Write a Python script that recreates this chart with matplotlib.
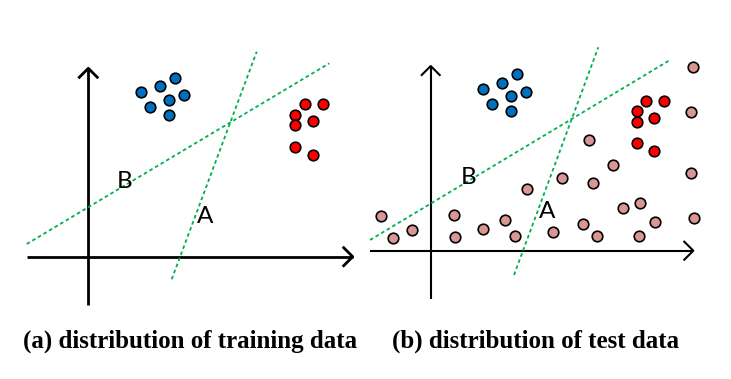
import matplotlib
matplotlib.use('Agg')
import matplotlib.pyplot as plt

# Schéma: dva panely (a) trénovací data, (b) testovací data
# souřadnice v pixelech obrázku (x doprava, y dolů)

W, H = 731, 379

# (a) trénovací data
a_axis_x = 88.3
a_axis_y = 256.7
a_xrange = (26.7, 352.7)
a_yrange = (305.0, 68.3)
a_blue_x = [140.7, 160.0, 175.3, 169.3, 184.0, 150.0, 169.3]
a_blue_y = [92.3, 86.0, 77.7, 100.0, 95.0, 107.3, 114.7]
a_red_x = [305.0, 322.7, 295.3, 295.3, 313.3, 295.3, 313.3]
a_red_y = [104.0, 104.0, 114.7, 125.3, 121.3, 146.7, 155.3]
a_line_A = ([171.7, 256.7], [279.3, 51.7])
a_line_B = ([26.7, 329.3], [244.0, 63.3])
a_label_A = (205.0, 216.7)
a_label_B = (125.0, 182.0)

# (b) testovací data
b_axis_x = 430.7
b_axis_y = 250.7
b_xrange = (370.0, 693.3)
b_yrange = (299.3, 66.0)
b_blue_x = [482.7, 502.3, 517.0, 511.3, 526.0, 492.0, 511.3]
b_blue_y = [89.0, 82.7, 74.3, 96.3, 92.0, 103.7, 111.0]
b_red_x = [646.0, 663.7, 636.7, 636.7, 654.3, 636.7, 654.3]
b_red_y = [101.0, 101.0, 111.0, 121.7, 118.3, 142.7, 151.3]
b_test_x = [693.3, 691.0, 589.3, 613.0, 691.0, 562.0, 593.3, 526.7, 623.0, 640.0,
            694.3, 380.7, 454.3, 505.3, 655.3, 393.3, 412.3, 455.0, 483.0, 514.7,
            553.3, 583.3, 597.0, 639.3]
b_test_y = [66.7, 112.3, 140.0, 165.0, 173.3, 177.7, 183.3, 189.0, 207.7, 203.0,
            217.7, 215.7, 214.7, 219.7, 221.7, 237.7, 229.7, 236.7, 228.7, 235.7,
            232.3, 223.7, 235.7, 235.7]
b_line_A = ([514.0, 598.3], [275.0, 47.3])
b_line_B = ([370.0, 670.0], [240.0, 60.0])
b_label_A = (547.3, 212.0)
b_label_B = (468.3, 178.0)

captions = ['(a) distribution of training data', '(b) distribution of test data']
caption_x = [190.0, 535.5]
caption_y = 348.0

BLUE = '#0070c0'
RED = '#ff0000'
PINK = '#d99694'
GREEN = '#00b050'


def draw_axes(ax, ox, oy, xr, yr, lw):
    """Osy se šipkami"""
    hd = 9
    ax.plot(xr, [oy, oy], color='black', lw=lw, solid_capstyle='butt', zorder=2)
    ax.plot([ox, ox], yr, color='black', lw=lw, solid_capstyle='butt', zorder=2)
    xe = xr[1]
    ax.plot([xe - hd, xe, xe - hd], [oy - hd, oy, oy + hd], color='black', lw=lw, zorder=2)
    ye = yr[1]
    ax.plot([ox - hd, ox, ox + hd], [ye + hd, ye, ye + hd], color='black', lw=lw, zorder=2)


def draw_panel(ax, axis_x, axis_y, xr, yr, lw, blue, red, line_a, line_b, lab_a, lab_b, test=None):
    draw_axes(ax, axis_x, axis_y, xr, yr, lw)
    for line in (line_a, line_b):
        ax.plot(line[0], line[1], color=GREEN, lw=1.3, linestyle=(0, (2.0, 1.6)), zorder=3)
    mk = dict(marker='o', linestyle='none', markersize=7.6, markeredgecolor='black',
              markeredgewidth=1.2, zorder=4)
    if test is not None:
        ax.plot(test[0], test[1], markerfacecolor=PINK, **mk)
    ax.plot(blue[0], blue[1], markerfacecolor=BLUE, **mk)
    ax.plot(red[0], red[1], markerfacecolor=RED, **mk)
    for txt, pos in (('A', lab_a), ('B', lab_b)):
        ax.text(pos[0], pos[1], txt, fontsize=17.5, family=['Lato', 'DejaVu Sans'],
                ha='center', va='center', color='black', zorder=5)


fig = plt.figure(figsize=(W / 100, H / 100), dpi=100)
ax = fig.add_axes([0, 0, 1, 1])
ax.set_xlim(0, W)
ax.set_ylim(H, 0)
ax.axis('off')

draw_panel(ax, a_axis_x, a_axis_y, a_xrange, a_yrange, 2.0,
           (a_blue_x, a_blue_y), (a_red_x, a_red_y), a_line_A, a_line_B,
           a_label_A, a_label_B)
draw_panel(ax, b_axis_x, b_axis_y, b_xrange, b_yrange, 1.5,
           (b_blue_x, b_blue_y), (b_red_x, b_red_y), b_line_A, b_line_B,
           b_label_A, b_label_B, test=(b_test_x, b_test_y))

for cap, cx in zip(captions, caption_x):
    ax.text(cx, caption_y, cap, fontsize=18, fontweight='bold',
            family=['Liberation Serif', 'DejaVu Serif'], ha='center', va='baseline')

plt.savefig('out.png', dpi=100, facecolor='white')
plt.close()
